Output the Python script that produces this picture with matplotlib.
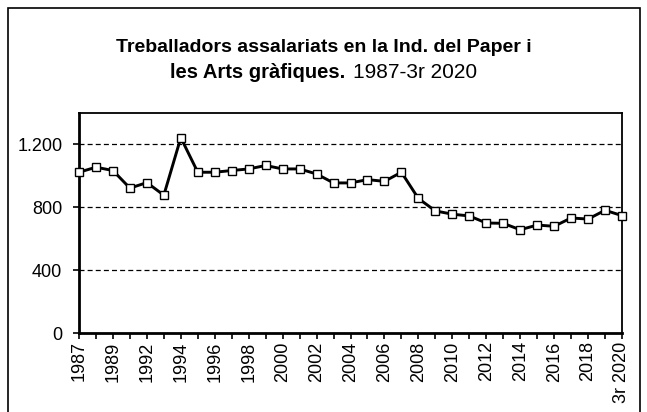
import matplotlib
matplotlib.use("Agg")
import matplotlib.pyplot as plt
from matplotlib.patches import Rectangle

plt.rcParams['font.family'] = ['Liberation Sans', 'DejaVu Sans']

# categories (the 4th one is not labelled in the original)
years = ["1987", "1988", "1989", "1990", "1992", "1993", "1994", "1995", "1996",
         "1997", "1998", "1999", "2000", "2001", "2002", "2003", "2004", "2005",
         "2006", "2007", "2008", "2009", "2010", "2011", "2012", "2013", "2014",
         "2015", "2016", "2017", "2018", "2019", "3r 2020"]
workers = [1023, 1055, 1034, 922, 957, 877, 1243, 1023, 1023, 1034, 1044, 1066,
           1044, 1044, 1012, 955, 955, 976, 965, 1023, 856, 777, 756, 745, 700,
           698, 657, 687, 679, 732, 725, 781, 747]
y_ticks = [0, 400, 800, 1200]
y_labels = ["0", "400", "800", "1.200"]

W, H = 647, 412
fig = plt.figure(figsize=(W / 100, H / 100), dpi=100)
ax = fig.add_axes([79 / W, 1 - 333 / H, (622 - 79) / W, (333 - 113) / H])

x = list(range(len(years)))
ax.plot(x, workers, color='black', lw=2.1, marker='s', markersize=6,
        markerfacecolor='white', markeredgecolor='black', markeredgewidth=1.0,
        clip_on=False, zorder=3)

ax.set_xlim(0, len(years) - 1)
ax.set_ylim(0, 1400)
ax.set_yticks(y_ticks)
ax.set_yticklabels(y_labels, fontsize=13)
for yv in y_ticks[1:]:
    ax.axhline(yv, color='black', lw=0.9, ls=(0, (4, 2.5)), zorder=1)

ax.set_xticks(x)
ax.set_xticklabels([lab if i % 2 == 0 else '' for i, lab in enumerate(years)],
                   rotation=90, fontsize=13)
ax.tick_params(axis='both', direction='out', length=4, width=1.2, color='black')
ax.tick_params(axis='x', pad=2)
ax.tick_params(axis='y', pad=8)

for s in ['left', 'bottom']:
    ax.spines[s].set_linewidth(2.0)
for s in ['top', 'right']:
    ax.spines[s].set_linewidth(1.3)

# outer chart border
fig.patches.append(Rectangle((8 / W, -0.05), (640 - 8) / W, 1 - 8 / H + 0.05,
                             transform=fig.transFigure, fill=False,
                             edgecolor='black', lw=1.2))

fig.text(0.5, 1 - 48 / H, "Treballadors assalariats en la Ind. del Paper i",
         ha='center', va='center', fontsize=14, fontweight='bold')
fig.text(345 / W, 1 - 73 / H, "les Arts gràfiques.", ha='right', va='center',
         fontsize=14.5, fontweight='bold')
fig.text(353 / W, 1 - 73 / H, "1987-3r 2020", ha='left', va='center',
         fontsize=15)

fig.savefig("out.png", dpi=100)
